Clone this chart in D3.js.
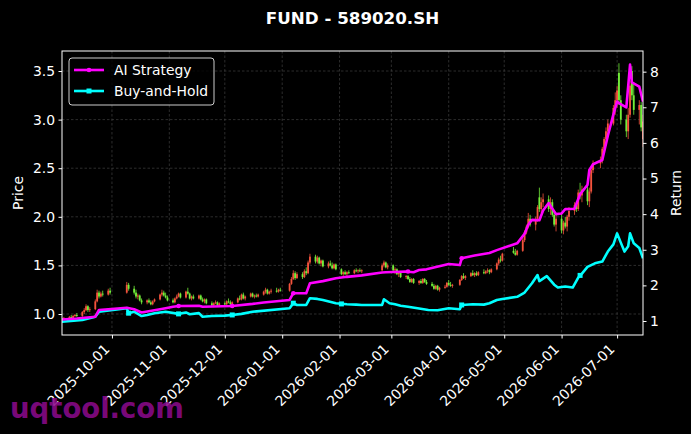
<!DOCTYPE html>
<html>
<head>
<meta charset="utf-8">
<script src="https://cdn.jsdelivr.net/npm/d3@7"></script>
<style>
body { margin: 0; background: #000; }
text { font-family: "DejaVu Sans", sans-serif; fill: #fff; }
</style>
</head>
<body>
<script>
var chartTitle = "FUND - 589020.SH";

// daily candles: date, open, high, low, close
var candles = [
	["2025-09-04",0.94,0.96,0.93,0.95],["2025-09-05",0.95,0.97,0.94,0.96],["2025-09-08",0.96,0.98,0.95,0.97],
	["2025-09-09",0.97,0.99,0.95,0.96],["2025-09-10",0.96,0.99,0.95,0.98],["2025-09-11",0.98,1.00,0.97,0.99],
	["2025-09-12",0.99,1.01,0.97,0.98],["2025-09-15",0.98,1.03,0.97,1.02],["2025-09-16",1.02,1.06,1.00,1.04],
	["2025-09-17",1.04,1.10,1.03,1.08],["2025-09-18",1.08,1.09,1.02,1.04],["2025-09-19",1.04,1.07,1.02,1.05],
	["2025-09-22",1.05,1.15,1.04,1.13],["2025-09-23",1.13,1.25,1.12,1.22],["2025-09-24",1.22,1.24,1.16,1.18],
	["2025-09-25",1.18,1.23,1.17,1.21],["2025-09-26",1.21,1.24,1.18,1.20],["2025-09-29",1.20,1.26,1.19,1.24],
	["2025-09-30",1.24,1.27,1.20,1.22],
	["2025-10-09",1.22,1.33,1.21,1.30],["2025-10-10",1.30,1.32,1.24,1.26],["2025-10-13",1.26,1.29,1.20,1.22],
	["2025-10-14",1.22,1.25,1.16,1.18],["2025-10-15",1.18,1.21,1.15,1.19],["2025-10-16",1.19,1.20,1.13,1.14],
	["2025-10-17",1.14,1.16,1.10,1.12],["2025-10-20",1.12,1.15,1.10,1.14],["2025-10-21",1.14,1.16,1.11,1.12],
	["2025-10-22",1.12,1.14,1.09,1.10],["2025-10-23",1.10,1.14,1.09,1.13],["2025-10-24",1.13,1.16,1.12,1.15],
	["2025-10-27",1.15,1.21,1.14,1.20],["2025-10-28",1.20,1.25,1.18,1.22],["2025-10-29",1.22,1.24,1.18,1.19],
	["2025-10-30",1.19,1.22,1.16,1.17],["2025-10-31",1.17,1.19,1.13,1.14],
	["2025-11-03",1.14,1.16,1.11,1.12],["2025-11-04",1.12,1.17,1.11,1.16],["2025-11-05",1.16,1.20,1.15,1.18],
	["2025-11-06",1.18,1.22,1.17,1.21],["2025-11-07",1.21,1.22,1.16,1.17],["2025-11-10",1.17,1.24,1.16,1.23],
	["2025-11-11",1.23,1.27,1.20,1.21],["2025-11-12",1.21,1.22,1.15,1.16],["2025-11-13",1.16,1.19,1.14,1.18],
	["2025-11-14",1.18,1.20,1.15,1.16],["2025-11-17",1.16,1.20,1.15,1.19],["2025-11-18",1.19,1.20,1.14,1.15],
	["2025-11-19",1.15,1.17,1.12,1.13],["2025-11-20",1.13,1.16,1.11,1.15],["2025-11-21",1.15,1.16,1.10,1.11],
	["2025-11-24",1.11,1.13,1.08,1.09],["2025-11-25",1.09,1.12,1.07,1.11],["2025-11-26",1.11,1.14,1.10,1.12],
	["2025-11-27",1.12,1.13,1.08,1.09],["2025-11-28",1.09,1.12,1.08,1.11],
	["2025-12-01",1.11,1.13,1.09,1.10],["2025-12-02",1.10,1.14,1.09,1.13],["2025-12-03",1.13,1.16,1.11,1.12],
	["2025-12-04",1.12,1.14,1.09,1.10],["2025-12-05",1.10,1.13,1.09,1.12],["2025-12-08",1.12,1.17,1.11,1.16],
	["2025-12-09",1.16,1.19,1.14,1.15],["2025-12-10",1.15,1.21,1.14,1.20],["2025-12-11",1.20,1.22,1.15,1.16],
	["2025-12-12",1.16,1.19,1.14,1.18],["2025-12-15",1.18,1.22,1.17,1.21],["2025-12-16",1.21,1.22,1.17,1.18],
	["2025-12-17",1.18,1.20,1.16,1.19],["2025-12-18",1.19,1.21,1.17,1.18],["2025-12-19",1.18,1.21,1.17,1.20],
	["2025-12-22",1.20,1.24,1.19,1.23],["2025-12-23",1.23,1.27,1.21,1.25],["2025-12-24",1.25,1.26,1.20,1.21],
	["2025-12-25",1.21,1.24,1.20,1.23],["2025-12-26",1.23,1.26,1.21,1.24],["2025-12-29",1.24,1.27,1.22,1.23],
	["2025-12-30",1.23,1.26,1.22,1.25],["2025-12-31",1.25,1.27,1.23,1.24],
	["2026-01-05",1.24,1.32,1.23,1.31],["2026-01-06",1.31,1.38,1.30,1.36],["2026-01-07",1.36,1.45,1.35,1.42],
	["2026-01-08",1.42,1.44,1.35,1.37],["2026-01-09",1.37,1.43,1.36,1.41],["2026-01-12",1.41,1.43,1.36,1.38],
	["2026-01-13",1.38,1.46,1.37,1.44],["2026-01-14",1.44,1.48,1.40,1.42],["2026-01-15",1.42,1.55,1.41,1.53],
	["2026-01-16",1.53,1.62,1.51,1.59],["2026-01-19",1.59,1.61,1.52,1.54],["2026-01-20",1.54,1.60,1.52,1.58],
	["2026-01-21",1.58,1.59,1.51,1.52],["2026-01-22",1.52,1.56,1.49,1.55],["2026-01-23",1.55,1.56,1.48,1.49],
	["2026-01-26",1.49,1.54,1.47,1.52],["2026-01-27",1.52,1.55,1.49,1.50],["2026-01-28",1.50,1.53,1.46,1.47],
	["2026-01-29",1.47,1.52,1.46,1.51],["2026-01-30",1.51,1.52,1.45,1.46],
	["2026-02-02",1.46,1.47,1.40,1.41],["2026-02-03",1.41,1.44,1.38,1.43],["2026-02-04",1.43,1.45,1.40,1.41],
	["2026-02-05",1.41,1.44,1.39,1.43],["2026-02-06",1.43,1.45,1.41,1.42],["2026-02-09",1.42,1.46,1.41,1.45],
	["2026-02-10",1.45,1.47,1.43,1.44],["2026-02-11",1.44,1.46,1.42,1.45],["2026-02-12",1.45,1.47,1.43,1.44],
	["2026-02-13",1.44,1.46,1.42,1.45],["2026-02-24",1.45,1.52,1.44,1.50],["2026-02-25",1.50,1.55,1.48,1.53],
	["2026-02-26",1.53,1.54,1.47,1.48],["2026-02-27",1.48,1.52,1.46,1.50],
	["2026-03-02",1.50,1.51,1.44,1.45],["2026-03-03",1.45,1.48,1.41,1.46],["2026-03-04",1.46,1.47,1.40,1.41],
	["2026-03-05",1.41,1.44,1.38,1.43],["2026-03-06",1.43,1.44,1.37,1.38],["2026-03-09",1.38,1.40,1.36,1.39],
	["2026-03-10",1.39,1.40,1.35,1.36],["2026-03-11",1.36,1.38,1.32,1.33],["2026-03-12",1.33,1.37,1.32,1.36],
	["2026-03-13",1.36,1.37,1.31,1.32],["2026-03-16",1.32,1.35,1.30,1.34],["2026-03-17",1.34,1.36,1.31,1.32],
	["2026-03-18",1.32,1.37,1.31,1.36],["2026-03-19",1.36,1.37,1.32,1.33],["2026-03-20",1.33,1.35,1.30,1.31],
	["2026-03-23",1.31,1.33,1.28,1.29],["2026-03-24",1.29,1.31,1.25,1.26],["2026-03-25",1.26,1.30,1.25,1.29],
	["2026-03-26",1.29,1.30,1.24,1.25],["2026-03-27",1.25,1.28,1.23,1.27],["2026-03-30",1.27,1.30,1.26,1.28],
	["2026-03-31",1.28,1.33,1.27,1.32],
	["2026-04-01",1.32,1.35,1.29,1.30],["2026-04-02",1.30,1.33,1.28,1.29],["2026-04-03",1.29,1.31,1.27,1.30],
	["2026-04-07",1.30,1.36,1.29,1.35],["2026-04-08",1.35,1.40,1.34,1.39],["2026-04-09",1.39,1.42,1.36,1.37],
	["2026-04-10",1.37,1.40,1.35,1.39],["2026-04-13",1.39,1.43,1.38,1.42],["2026-04-14",1.42,1.45,1.39,1.40],
	["2026-04-15",1.40,1.43,1.38,1.42],["2026-04-16",1.42,1.44,1.39,1.40],["2026-04-17",1.40,1.44,1.39,1.43],
	["2026-04-20",1.43,1.46,1.41,1.42],["2026-04-21",1.42,1.45,1.41,1.44],["2026-04-22",1.44,1.47,1.42,1.45],
	["2026-04-23",1.45,1.46,1.41,1.43],["2026-04-24",1.43,1.47,1.42,1.46],["2026-04-27",1.46,1.53,1.45,1.52],
	["2026-04-28",1.52,1.58,1.50,1.56],["2026-04-29",1.56,1.60,1.53,1.55],["2026-04-30",1.55,1.63,1.54,1.62],
	["2026-05-06",1.65,1.69,1.62,1.63],["2026-05-07",1.63,1.67,1.60,1.61],["2026-05-08",1.61,1.66,1.60,1.65],
	["2026-05-11",1.65,1.78,1.64,1.76],["2026-05-12",1.76,1.86,1.74,1.84],["2026-05-13",1.84,1.92,1.82,1.90],
	["2026-05-14",1.90,2.04,1.88,1.98],["2026-05-15",1.98,2.02,1.90,1.92],["2026-05-18",1.92,2.00,1.86,1.98],
	["2026-05-19",1.98,2.12,1.95,2.10],["2026-05-20",2.20,2.30,2.05,2.08],["2026-05-21",2.08,2.20,2.04,2.15],
	["2026-05-22",2.15,2.24,2.10,2.18],["2026-05-25",2.18,2.22,2.05,2.08],["2026-05-26",2.08,2.20,2.02,2.15],
	["2026-05-27",2.15,2.18,2.00,2.02],["2026-05-28",2.02,2.06,1.90,1.92],["2026-05-29",1.92,2.02,1.85,1.98],
	["2026-06-01",1.98,2.05,1.83,1.86],["2026-06-02",1.86,1.96,1.82,1.94],["2026-06-03",1.94,2.00,1.88,1.90],
	["2026-06-04",1.90,2.02,1.85,2.00],["2026-06-05",2.00,2.10,1.96,2.06],["2026-06-08",2.06,2.15,2.02,2.12],
	["2026-06-09",2.12,2.16,2.05,2.08],["2026-06-10",2.08,2.28,2.06,2.25],["2026-06-11",2.25,2.35,2.18,2.22],
	["2026-06-12",2.22,2.32,2.15,2.28],["2026-06-15",2.28,2.36,2.12,2.16],["2026-06-16",2.16,2.30,2.10,2.26],
	["2026-06-17",2.26,2.50,2.24,2.48],["2026-06-18",2.48,2.58,2.45,2.55],["2026-06-22",2.55,2.62,2.50,2.58],
	["2026-06-23",2.58,2.72,2.55,2.70],["2026-06-24",2.70,2.82,2.66,2.80],["2026-06-25",2.80,2.92,2.76,2.88],
	["2026-06-26",2.88,3.00,2.85,2.96],["2026-06-29",2.96,3.15,2.94,3.12],["2026-06-30",3.12,3.28,3.05,3.20],
	["2026-07-01",3.20,3.35,3.12,3.30],["2026-07-02",3.48,3.58,3.15,3.20],["2026-07-03",3.20,3.25,2.95,3.00],
	["2026-07-06",3.00,3.05,2.82,2.88],["2026-07-07",2.88,3.12,2.80,3.05],["2026-07-08",3.05,3.40,3.02,3.35],
	["2026-07-09",3.50,3.55,3.20,3.25],["2026-07-10",3.25,3.38,3.05,3.10],["2026-07-13",3.10,3.20,2.95,3.15],
	["2026-07-14",3.15,3.18,2.88,2.92],["2026-07-15",2.80,3.05,2.72,2.98]
];

// strategy equity curves (return multiple)
var aiStrategy = [
	["2025-09-04",1.04],["2025-09-12",1.07],["2025-09-22",1.12],["2025-09-24",1.31],["2025-10-09",1.37],
	["2025-10-13",1.33],["2025-10-17",1.24],["2025-10-27",1.33],["2025-10-30",1.36],["2025-11-03",1.40],
	["2025-11-06",1.42],["2025-11-17",1.43],["2025-11-19",1.40],["2025-12-05",1.42],["2025-12-16",1.48],
	["2025-12-22",1.52],["2026-01-05",1.59],["2026-01-07",1.78],["2026-01-14",1.78],["2026-01-16",2.06],
	["2026-01-23",2.12],["2026-01-30",2.20],["2026-02-05",2.24],["2026-02-13",2.28],["2026-02-24",2.36],
	["2026-02-26",2.37],["2026-03-09",2.39],["2026-03-13",2.37],["2026-03-16",2.43],["2026-03-20",2.45],
	["2026-03-24",2.50],["2026-04-01",2.60],["2026-04-07",2.57],["2026-04-08",2.76],["2026-04-15",2.84],
	["2026-04-23",2.91],["2026-04-27",2.99],["2026-05-08",3.18],["2026-05-12",3.45],["2026-05-14",3.70],
	["2026-05-16",3.84],["2026-05-20",3.83],["2026-05-22",4.10],["2026-05-25",4.31],["2026-05-29",4.00],
	["2026-06-01",4.02],["2026-06-03",4.14],["2026-06-08",4.15],["2026-06-11",4.56],["2026-06-15",4.82],
	["2026-06-16",5.24],["2026-06-18",5.40],["2026-06-23",5.52],["2026-06-26",6.20],["2026-06-29",6.80],
	["2026-07-01",7.16],["2026-07-02",7.12],["2026-07-06",7.00],["2026-07-08",8.20],["2026-07-09",7.70],
	["2026-07-13",7.58],["2026-07-15",7.16]
];
var buyHold = [
	["2025-09-04",0.98],["2025-09-15",1.03],["2025-09-22",1.12],["2025-09-24",1.26],["2025-10-09",1.36],
	["2025-10-10",1.22],["2025-10-13",1.26],["2025-10-17",1.14],["2025-10-20",1.17],["2025-10-24",1.22],
	["2025-10-30",1.26],["2025-11-06",1.20],["2025-11-10",1.24],["2025-11-12",1.19],["2025-11-17",1.22],
	["2025-11-19",1.12],["2025-11-24",1.14],["2025-12-01",1.15],["2025-12-05",1.17],["2025-12-10",1.20],
	["2025-12-16",1.26],["2026-01-05",1.36],["2026-01-07",1.50],["2026-01-09",1.45],["2026-01-14",1.45],
	["2026-01-16",1.64],["2026-01-20",1.62],["2026-01-23",1.59],["2026-01-30",1.50],["2026-02-05",1.47],
	["2026-02-10",1.46],["2026-02-13",1.45],["2026-02-24",1.45],["2026-02-25",1.61],["2026-02-28",1.50],
	["2026-03-03",1.47],["2026-03-06",1.43],["2026-03-10",1.40],["2026-03-16",1.35],["2026-03-21",1.31],
	["2026-03-26",1.30],["2026-04-01",1.36],["2026-04-07",1.33],["2026-04-08",1.45],["2026-04-14",1.47],
	["2026-04-20",1.46],["2026-04-23",1.50],["2026-04-27",1.59],["2026-04-30",1.62],["2026-05-08",1.68],
	["2026-05-12",1.80],["2026-05-16",2.06],["2026-05-19",2.29],["2026-05-20",2.12],["2026-05-24",2.26],
	["2026-05-28",2.02],["2026-05-30",1.94],["2026-06-03",1.97],["2026-06-07",1.94],["2026-06-10",2.22],
	["2026-06-12",2.33],["2026-06-15",2.52],["2026-06-19",2.62],["2026-06-23",2.67],["2026-06-26",2.95],
	["2026-06-29",3.15],["2026-07-01",3.46],["2026-07-03",3.20],["2026-07-05",2.95],["2026-07-07",3.10],
	["2026-07-08",3.46],["2026-07-10",3.18],["2026-07-13",3.05],["2026-07-15",2.76]
];

// trade markers drawn on the curves
var aiMarks = [["2025-11-06",1.42],["2025-12-05",1.42],["2026-01-07",1.78],["2026-03-10",2.39],["2026-04-08",2.76]];
var bhMarks = [["2025-10-10",1.22],["2025-11-06",1.20],["2025-12-05",1.17],["2026-01-07",1.50],["2026-02-02",1.48],
	["2026-04-08",1.45],["2026-06-11",2.28]];

var priceTicks = [1.0, 1.5, 2.0, 2.5, 3.0, 3.5];
var returnTicks = [1, 2, 3, 4, 5, 6, 7, 8];
var monthTicks = ["2025-10-01","2025-11-01","2025-12-01","2026-01-01","2026-02-01",
	"2026-03-01","2026-04-01","2026-05-01","2026-06-01","2026-07-01"];

var parse = d3.timeParse("%Y-%m-%d");

var W = 691, H = 434;
var plot = { left: 62, right: 643, top: 51, bottom: 335 };

var svg = d3.select("body").append("svg")
	.attr("width", W)
	.attr("height", H)
	.style("background", "#000");

var x = d3.scaleTime()
	.domain([parse("2025-09-04"), parse("2026-07-15")])
	.range([plot.left, plot.right]);
var yPrice = d3.scaleLinear().domain([0.784, 3.706]).range([plot.bottom, plot.top]);
var yRet = d3.scaleLinear().domain([0.607, 8.58]).range([plot.bottom, plot.top]);

svg.append("defs").append("clipPath").attr("id", "clip")
	.append("rect")
	.attr("x", plot.left).attr("y", plot.top)
	.attr("width", plot.right - plot.left).attr("height", plot.bottom - plot.top);

// grid
var grid = svg.append("g").attr("stroke", "#4a4a4a").attr("stroke-width", 0.6).attr("stroke-dasharray", "2.5,2");
grid.selectAll(".gx").data(monthTicks).enter().append("line")
	.attr("x1", function(d) { return x(parse(d)); })
	.attr("x2", function(d) { return x(parse(d)); })
	.attr("y1", plot.top).attr("y2", plot.bottom);
grid.selectAll(".gy").data(priceTicks).enter().append("line")
	.attr("x1", plot.left).attr("x2", plot.right)
	.attr("y1", function(d) { return yPrice(d); })
	.attr("y2", function(d) { return yPrice(d); });

// candlesticks
var up = "#f5533d", down = "#74f03a";
var cg = svg.append("g").attr("clip-path", "url(#clip)");
var cs = cg.selectAll(".candle").data(candles).enter().append("g");
cs.append("line")
	.attr("x1", function(d) { return x(parse(d[0])); })
	.attr("x2", function(d) { return x(parse(d[0])); })
	.attr("y1", function(d) { return yPrice(d[2]); })
	.attr("y2", function(d) { return yPrice(d[3]); })
	.attr("stroke", function(d) { return d[4] >= d[1] ? up : down; })
	.attr("stroke-width", 0.8);
cs.append("rect")
	.attr("x", function(d) { return x(parse(d[0])) - 0.9; })
	.attr("width", 1.8)
	.attr("y", function(d) { return yPrice(Math.max(d[1], d[4])); })
	.attr("height", function(d) { return Math.max(1, Math.abs(yPrice(d[1]) - yPrice(d[4]))); })
	.attr("fill", function(d) { return d[4] >= d[1] ? up : down; });

// equity lines on the right axis
var line = d3.line()
	.x(function(d) { return x(parse(d[0])); })
	.y(function(d) { return yRet(d[1]); });
var lg = svg.append("g").attr("clip-path", "url(#clip)");
lg.append("path").datum(buyHold)
	.attr("d", line).attr("fill", "none")
	.attr("stroke", "#00ffff").attr("stroke-width", 2.6).attr("stroke-linejoin", "round");
lg.selectAll(".bhm").data(bhMarks).enter().append("rect")
	.attr("x", function(d) { return x(parse(d[0])) - 2.5; })
	.attr("y", function(d) { return yRet(d[1]) - 2.5; })
	.attr("width", 5).attr("height", 5).attr("fill", "#00ffff");
lg.append("path").datum(aiStrategy)
	.attr("d", line).attr("fill", "none")
	.attr("stroke", "#ff00ff").attr("stroke-width", 2.6).attr("stroke-linejoin", "round");
lg.selectAll(".aim").data(aiMarks).enter().append("circle")
	.attr("cx", function(d) { return x(parse(d[0])); })
	.attr("cy", function(d) { return yRet(d[1]); })
	.attr("r", 2.3).attr("fill", "#ff00ff");

// frame
svg.append("rect")
	.attr("x", plot.left).attr("y", plot.top)
	.attr("width", plot.right - plot.left).attr("height", plot.bottom - plot.top)
	.attr("fill", "none").attr("stroke", "#fff").attr("stroke-width", 1);

// axes
function styleAxis(g) {
	g.select(".domain").remove();
	g.selectAll(".tick line").attr("stroke", "#fff");
	g.selectAll(".tick text").attr("fill", "#fff")
		.style("font-family", "DejaVu Sans").style("font-size", "13.9px");
}
svg.append("g").attr("transform", "translate(" + plot.left + ",0)")
	.call(d3.axisLeft(yPrice).tickValues(priceTicks).tickFormat(d3.format(".1f")).tickSize(3.5).tickPadding(3.5))
	.call(styleAxis);
svg.append("g").attr("transform", "translate(" + plot.right + ",0)")
	.call(d3.axisRight(yRet).tickValues(returnTicks).tickFormat(d3.format("d")).tickSize(3.5).tickPadding(3.5))
	.call(styleAxis);
var xa = svg.append("g").attr("transform", "translate(0," + plot.bottom + ")")
	.call(d3.axisBottom(x).tickValues(monthTicks.map(parse)).tickFormat(d3.timeFormat("%Y-%m-%d")).tickSize(3.5))
	.call(styleAxis);
xa.selectAll(".tick text")
	.attr("text-anchor", "end")
	.attr("dy", null)
	.attr("y", null)
	.attr("transform", "translate(-2,15) rotate(-45)");

// axis labels
svg.append("text").attr("transform", "translate(23,193) rotate(-90)")
	.attr("text-anchor", "middle").style("font-size", "13.9px").text("Price");
svg.append("text").attr("transform", "translate(681,193) rotate(-90)")
	.attr("text-anchor", "middle").style("font-size", "13.9px").text("Return");

// title
svg.append("text").attr("x", (plot.left + plot.right) / 2).attr("y", 24)
	.attr("text-anchor", "middle").style("font-size", "16.7px").style("font-weight", "bold")
	.text(chartTitle);

// legend
var leg = svg.append("g");
leg.append("rect").attr("x", 69).attr("y", 58).attr("width", 145).attr("height", 47).attr("rx", 3)
	.attr("fill", "#000").attr("fill-opacity", 0.8).attr("stroke", "#cccccc").attr("stroke-width", 1);
var items = [
	{ name: "AI Strategy", color: "#ff00ff", shape: "circle" },
	{ name: "Buy-and-Hold", color: "#00ffff", shape: "square" }
];
items.forEach(function(it, i) {
	var yy = 70 + i * 21;
	leg.append("line").attr("x1", 74).attr("x2", 104).attr("y1", yy).attr("y2", yy)
		.attr("stroke", it.color).attr("stroke-width", 2.6);
	if (it.shape == "circle")
		leg.append("circle").attr("cx", 89).attr("cy", yy).attr("r", 2.3).attr("fill", it.color);
	else
		leg.append("rect").attr("x", 86.5).attr("y", yy - 2.5).attr("width", 5).attr("height", 5).attr("fill", it.color);
	leg.append("text").attr("x", 114).attr("y", yy + 5).style("font-size", "13.9px").text(it.name);
});

// watermark
svg.append("text").attr("x", 10).attr("y", 418)
	.style("font-size", "27.5px").style("font-weight", "bold")
	.style("fill", "#8a0a8a").style("fill-opacity", 0.9)
	.text("uqtool.com");
</script>
</body>
</html>
